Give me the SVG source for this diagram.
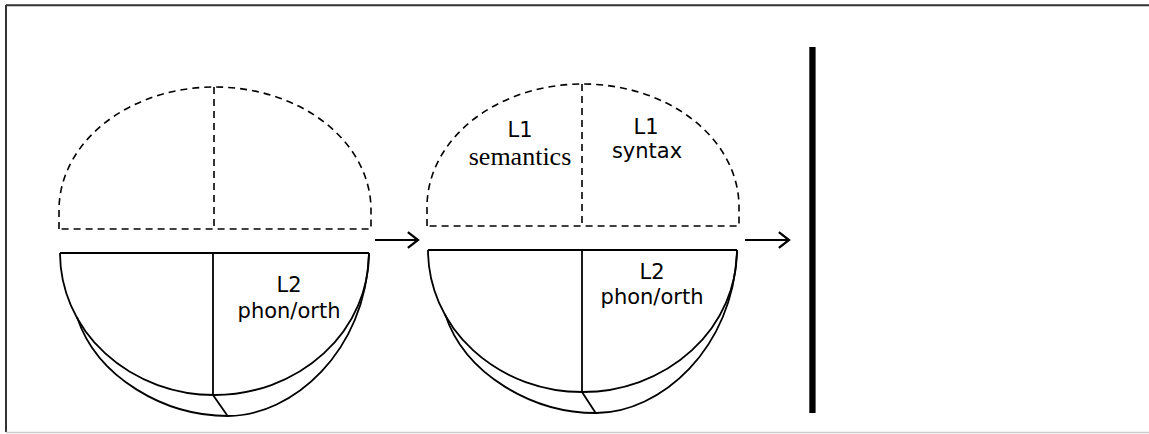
<svg xmlns="http://www.w3.org/2000/svg" width="1149" height="434" viewBox="0 0 1149 434">
<style>
.dash{fill:none;stroke:#000;stroke-width:1.6;stroke-dasharray:7 5}
.solid{fill:none;stroke:#000;stroke-width:1.8}
.sans{font-family:"DejaVu Sans","Verdana",sans-serif;font-size:21px;fill:#000;text-anchor:middle}
.serif{font-family:"Liberation Serif","Times New Roman",serif;font-size:26px;fill:#000;text-anchor:middle}
.conn{fill:none;stroke:#000;stroke-width:2}
</style>
<defs>
<marker id="arr" markerUnits="userSpaceOnUse" markerWidth="14" markerHeight="18" viewBox="-10 -8 12 16" refX="0" refY="0" orient="auto">
<path d="M-9,-7 L0,0 L-9,7" fill="none" stroke="#000" stroke-width="2"/>
</marker>
</defs>
<rect width="1149" height="434" fill="#fff"/>
<g id="frame">
<line x1="6" y1="5.3" x2="1149" y2="5.3" stroke="#333" stroke-width="2"/>
<line x1="6" y1="5" x2="6" y2="432" stroke="#333" stroke-width="2"/>
<line x1="6" y1="432.5" x2="1149" y2="432.5" stroke="#ccc" stroke-width="1.5"/>
</g>
<g id="model1">
<path class="dash" d="M59,229 L59,210 A156,123 0 0 1 371,210 L371,229 Z"/>
<line class="dash" x1="214" y1="87" x2="214" y2="229"/>
<line class="solid" x1="60" y1="253" x2="369" y2="253"/>
<path class="solid" d="M60,253 A154.5,142 0 0 0 369,253"/>
<path class="solid" d="M77,317 C97,378 165,416 228,416 C292,416 366,352 369,253"/>
<line class="solid" x1="213" y1="253" x2="213" y2="395"/>
<line class="solid" x1="213" y1="395" x2="228" y2="416.5"/>
<text class="sans" x="289" y="292">L2</text>
<text class="sans" x="289" y="318">phon/orth</text>
</g>
<g id="model2">
<g transform="translate(368,-3)">
<path class="dash" d="M59,229 L59,210 A156,123 0 0 1 371,210 L371,229 Z"/>
<line class="dash" x1="214" y1="87" x2="214" y2="229"/>
<line class="solid" x1="60" y1="253" x2="369" y2="253"/>
<path class="solid" d="M60,253 A154.5,142 0 0 0 369,253"/>
<path class="solid" d="M77,317 C97,378 165,416 228,416 C292,416 366,352 369,253"/>
<line class="solid" x1="214" y1="253" x2="214" y2="395"/>
<line class="solid" x1="214" y1="395" x2="228" y2="416.5"/>
</g>
<text class="sans" x="520" y="136.5">L1</text>
<text class="serif" x="520" y="165">semantics</text>
<text class="sans" x="646" y="134">L1</text>
<text class="sans" x="647" y="158">syntax</text>
<text class="sans" x="652" y="279">L2</text>
<text class="sans" x="652" y="304">phon/orth</text>
</g>
<g id="barrier">
<rect x="809.3" y="47" width="6.3" height="366" fill="#000"/>
</g>
<g id="connectors">
<line class="conn" x1="375" y1="240" x2="418" y2="240" marker-end="url(#arr)"/>
<line class="conn" x1="745" y1="240" x2="789" y2="240" marker-end="url(#arr)"/>
</g>
</svg>
